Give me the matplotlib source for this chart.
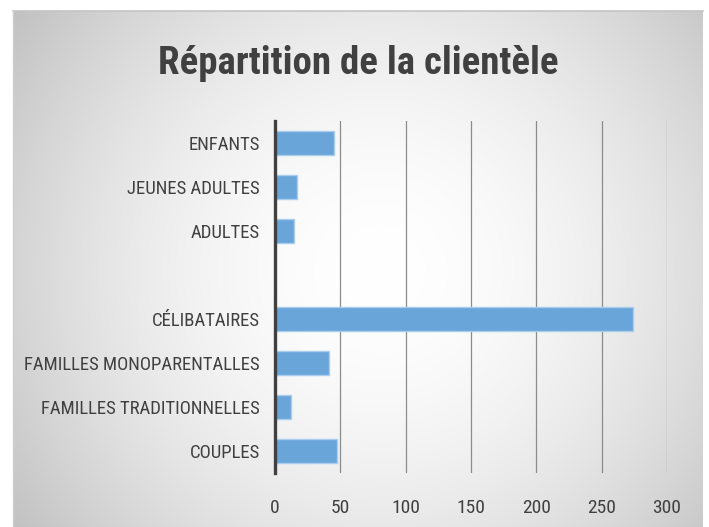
import numpy as np
import matplotlib
matplotlib.use("Agg")
import matplotlib.pyplot as plt
from matplotlib import font_manager

# ---- data ----
categories = ["ENFANTS", "JEUNES ADULTES", "ADULTES", "",
              "CÉLIBATAIRES", "FAMILLES MONOPARENTALLES",
              "FAMILLES TRADITIONNELLES", "COUPLES"]
values = [45, 17, 14.5, np.nan, 274, 41.5, 12, 47.5]
xticks = [0, 50, 100, 150, 200, 250, 300]
title = "Répartition de la clientèle"

# pick a condensed font if one exists
fonts = font_manager.fontManager.ttflist
names = {f.name for f in fonts}
condensed = None
for cand in ["Roboto Condensed", "Liberation Sans Narrow", "Open Sans Condensed",
             "Noto Sans Condensed", "DejaVu Sans Condensed"]:
    if cand in names:
        condensed = dict(family=cand)
        break
if condensed is None:
    for f in fonts:
        if f.name in ("DejaVu Sans", "Noto Sans", "Open Sans", "Roboto") and \
                str(f.stretch) in ("condensed", "semi-condensed", "500", "75", "87.5"):
            condensed = dict(family=f.name, stretch="condensed")
            break
if condensed is None:
    condensed = dict(family="Roboto")
COND = condensed["family"] != "Roboto"

W, H = 709, 527
fig = plt.figure(figsize=(W / 100, H / 100), dpi=100)
fig.patch.set_facecolor("white")

# background panel with radial gradient
x0, x1, y0, y1 = 13, 703, 11, 527
bg = fig.add_axes([x0 / W, 1 - y1 / H, (x1 - x0) / W, (y1 - y0) / H], zorder=-10)
xx, yy = np.meshgrid(np.arange(x0, x1), np.arange(y0, y1))
cx, cy = 380, 270
d = np.hypot(xx - cx, yy - cy) / 440.0
g = 255 - 60 * np.clip(d, 0, 1.2) ** 1.8
g = np.clip(g, 0, 255) / 255.0
bg.imshow(np.dstack([g, g, g]), aspect="auto", interpolation="bilinear")
bg.set_axis_off()
fig.add_artist(plt.Line2D([x0 / W, x1 / W], [1 - y0 / H, 1 - y0 / H], color="#c4c4c4", lw=1.2))
fig.add_artist(plt.Line2D([x0 / W, x0 / W], [1 - y0 / H, 0], color="#cfcfcf", lw=1.0))

# plot area
L, R, T, B = 275, 667, 121, 473
ax = fig.add_axes([L / W, 1 - B / H, (R - L) / W, (B - T) / H])
ax.set_facecolor("none")

ypos = np.arange(len(categories))
vals = np.array(values, dtype=float)
mask = ~np.isnan(vals)
ax.barh(ypos[mask], vals[mask], height=0.56,
        color="#6aa5da", edgecolor="#aacdee", linewidth=1.0, zorder=3)

ax.set_ylim(len(categories) - 0.5, -0.5)
ax.set_xlim(0, 300)
ax.set_xticks(xticks)
ax.set_xticklabels([str(t) for t in xticks])
ax.set_yticks(ypos)
ax.set_yticklabels(categories)
ax.tick_params(axis="both", length=0, colors="#404040")
ax.tick_params(axis="x", pad=19)
ax.tick_params(axis="y", pad=11)
ysize = 13.5 if COND else 10.8
xsize = 14 if COND else 13
for lab in ax.get_yticklabels():
    lab.set_fontsize(ysize)
    lab.set_color("#404040")
    for k, v in condensed.items():
        getattr(lab, "set_font" + k)(v)
for lab in ax.get_xticklabels():
    lab.set_fontsize(xsize)
    lab.set_color("#404040")
    for k, v in condensed.items():
        getattr(lab, "set_font" + k)(v)

ax.grid(axis="x", color="#8c8c8c", linewidth=0.9, zorder=0)
ax.grid(axis="y", visible=False)
for s in ["top", "right", "bottom"]:
    ax.spines[s].set_visible(False)
ax.spines["left"].set_color("#404040")
ax.spines["left"].set_linewidth(2.4)
ax.spines["left"].set_zorder(5)

t = fig.text(358 / W, 1 - 63 / H, title, ha="center", va="center",
             fontsize=28 if COND else 25.5, fontweight="bold", color="#404040")
for k, v in condensed.items():
    getattr(t, "set_font" + k)(v)

fig.savefig("out.png", dpi=100, facecolor=fig.get_facecolor())
